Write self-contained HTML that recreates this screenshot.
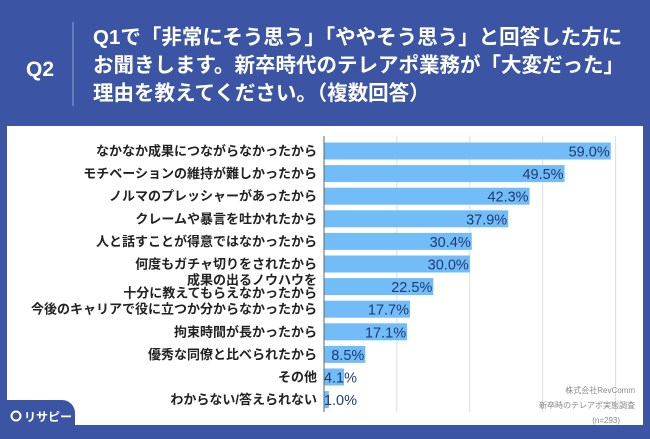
<!DOCTYPE html>
<html><head><meta charset="utf-8">
<style>
body{margin:0;width:650px;height:434px;overflow:hidden;background:#3b55a4;font-family:"Liberation Sans","Noto Sans CJK JP",sans-serif;}
</style></head>
<body>
<svg width="650" height="434" viewBox="0 0 650 434" xmlns="http://www.w3.org/2000/svg" font-family="Liberation Sans, Noto Sans CJK JP, sans-serif">
<rect x="0" y="0" width="650" height="434" fill="#3b55a4"/>
<text x="40" y="76" fill="#fff" font-size="21" font-weight="bold" text-anchor="middle">Q2</text>
<line x1="73" y1="22" x2="73" y2="106" stroke="#8fa0d0" stroke-width="1"/>
<g fill="#fff" font-size="20.5" font-weight="bold">
<text x="93" y="44">Q1で「非常にそう思う」「ややそう思う」と回答した方に</text>
<text x="93" y="72">お聞きします。新卒時代のテレアポ業務が「大変だった」</text>
<text x="93" y="100">理由を教えてください。（複数回答）</text>
</g>
<rect x="7" y="126" width="636" height="299" fill="#fff"/>
<g id="grid"></g>
<g id="bars"></g>
<line x1="324" y1="136" x2="324" y2="412" stroke="#666" stroke-width="1"/>
<g fill="#888" font-size="8" text-anchor="end">
<text x="635" y="393">株式会社RevComm</text>
<text x="635" y="408">新卒時のテレアポ実態調査</text>
<text x="620" y="423">(n=293)</text>
</g>
<path d="M0 400 H62 A13 13 0 0 1 75 413 V434 H0 Z" fill="#3b55a4"/>
<circle cx="16" cy="416" r="4.5" fill="none" stroke="#fff" stroke-width="2"/>
<text x="24" y="421" fill="#fff" font-size="12" font-weight="bold">リサピー</text>
</svg>
<script>
const categories=["なかなか成果につながらなかったから","モチベーションの維持が難しかったから","ノルマのプレッシャーがあったから","クレームや暴言を吐かれたから","人と話すことが得意ではなかったから","何度もガチャ切りをされたから","成果の出るノウハウを|十分に教えてもらえなかったから","今後のキャリアで役に立つか分からなかったから","拘束時間が長かったから","優秀な同僚と比べられたから","その他","わからない/答えられない"];
const values=[59.0,49.5,42.3,37.9,30.4,30.0,22.5,17.7,17.1,8.5,4.1,1.0];
const ticks=[0,15,30,45,60];
const NS="http://www.w3.org/2000/svg";
const x0=324,pxPer=4.86,y0=151,step=22.6,bh=17;
const xs=v=>x0+v*pxPer, ys=i=>y0+i*step;
const grid=document.getElementById('grid'),bars=document.getElementById('bars');
function mk(t,a){const e=document.createElementNS(NS,t);for(const k in a)e.setAttribute(k,a[k]);return e;}
ticks.forEach(t=>{if(t===0)return;const l=mk('line',{x1:xs(t),x2:xs(t),y1:136,y2:412,stroke:'#ddd','stroke-width':1});


grid.appendChild(l);});
categories.forEach((c,i)=>{
 const y=ys(i);
 const r=mk('rect',{x:x0,y:y-bh/2,width:values[i]*pxPer,height:bh,fill:'#72bcf8'});
 
 
 bars.appendChild(r);
 const parts=c.split('|');
 const lab=mk('text',{x:317,'text-anchor':'end','font-size':13,'font-weight':'bold',fill:'#222'});
 
 
 if(parts.length===1){lab.setAttribute('y',y+4.5);lab.textContent=c;}
 else{parts.forEach((p,j)=>{const ts=mk('tspan',{x:317,y:y-2+j*13});ts.textContent=p;lab.appendChild(ts);});}
 bars.appendChild(lab);
 const txt=values[i].toFixed(1)+'%';
 const w=txt.length*8;
 let ex=xs(values[i])-1; if(ex-w<x0+1) ex=x0+1+w;
 const vl=mk('text',{x:ex,y:y+5.5,'text-anchor':'end','font-size':14.5,fill:'#1f3c74'});
 
 
 vl.textContent=txt;
 bars.appendChild(vl);
});
</script>
</body></html>
